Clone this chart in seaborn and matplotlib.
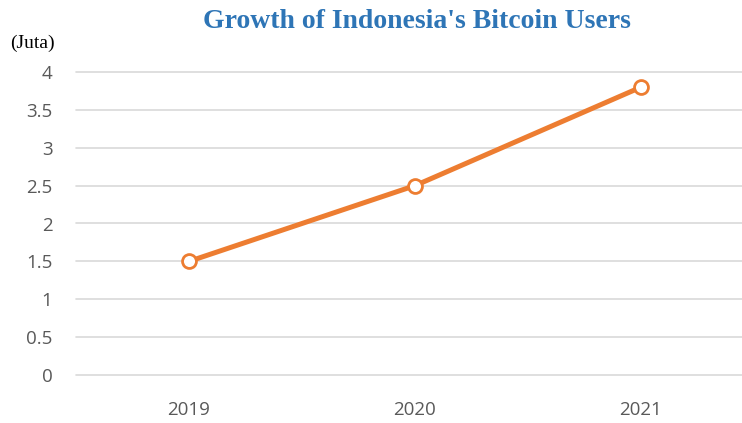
import matplotlib
matplotlib.use("Agg")
import matplotlib.pyplot as plt
import seaborn as sns
import pandas as pd

years = ["2019", "2020", "2021"]
users = [1.5, 2.5, 3.8]
yticks = [0, 0.5, 1, 1.5, 2, 2.5, 3, 3.5, 4]
ytick_labels = ["0", "0.5", "1", "1.5", "2", "2.5", "3", "3.5", "4"]
title = "Growth of Indonesia's Bitcoin Users"
unit_label = "(Juta)"

df = pd.DataFrame({"year": years, "users": users})

sns.set_style("white")
plt.rcParams["font.family"] = ["Open Sans", "DejaVu Sans"]

W, H = 742, 423
fig = plt.figure(figsize=(W / 100, H / 100), dpi=100)
ax = fig.add_axes([76 / W, (H - 375) / H, (742 - 76) / W, (375 - 72) / H])

x = list(range(len(years)))
sns.lineplot(x=x, y=df["users"], ax=ax, color="#ED7D31", linewidth=3.6,
             marker="o", markersize=10, markerfacecolor="white",
             markeredgecolor="#ED7D31", markeredgewidth=2, zorder=3)

ax.set_xlim(-0.5, 2 + (742 - 641) / 226)
ax.set_ylim(0, 4)
ax.set_yticks(yticks)
ax.set_yticklabels(ytick_labels)
ax.set_xticks(x)
ax.set_xticklabels(years)
ax.grid(axis="y", color="#D9D9D9", linewidth=1.2)
ax.grid(axis="x", visible=False)
for s in ["left", "right", "top", "bottom"]:
    ax.spines[s].set_visible(False)
ax.tick_params(axis="both", length=0, colors="#595959", labelsize=13.5)
ax.tick_params(axis="y", pad=17)
ax.tick_params(axis="x", pad=19)
ax.set_xlabel("")
ax.set_ylabel("")
for gl in ax.get_ygridlines():
    gl.set_clip_on(False)

fig.text(417 / W, 1 - 22 / H, title, ha="center", va="center",
         family="Liberation Serif", fontweight="bold", fontsize=20, color="#2E75B6")
fig.text(10 / W, 1 - 43 / H, unit_label, ha="left", va="center",
         family="Liberation Serif", fontsize=14, color="black")

fig.savefig("out.png", dpi=100)
